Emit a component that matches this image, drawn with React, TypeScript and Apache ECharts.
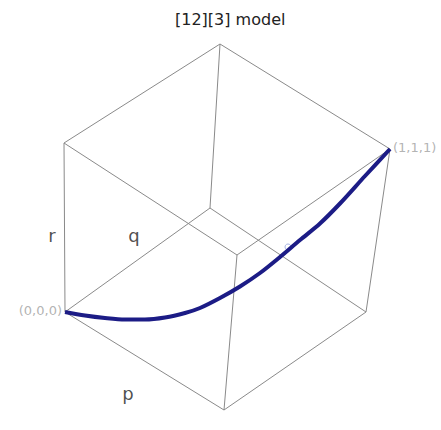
import React, { useEffect, useRef } from "react";
import * as echarts from "echarts";

// Projected screen-plane positions of the unit-cube corners, indexed by [p, q, r] bits
// (index = p + 2*q + 4*r).
const cornerX = [65, 224, 210, 366, 64, 237, 220, 390];
const cornerY = [312, 410, 208, 312, 143, 255, 44, 149];

// Model curve from (0,0,0) to (1,1,1) in the projected plane
const curveX = [65, 85, 105, 125, 145, 165, 185, 200, 220, 240, 260, 280, 300, 320, 340, 365, 390];
const curveY = [312, 315.5, 318, 319.5, 319.5, 317.5, 313, 308, 298, 286.5, 273, 257, 240, 223.5, 203.5, 176, 149];

// Highlighted point on the curve
const markerX = [288];
const markerY = [247];

// Axis labels
const axisNames = ["p", "q", "r"];
const axisLabelX = [128, 134, 52];
const axisLabelY = [393, 235, 235];

// Corner labels
const cornerLabels = ["(0,0,0)", "(1,1,1)"];
const cornerLabelIdx = [0, 7];

const titleText = "[12][3] model";

export default function App() {
  const ref = useRef<HTMLDivElement>(null);

  useEffect(() => {
    document.body.style.margin = "0";
    if (!ref.current) return;
    const chart = echarts.init(ref.current, undefined, { renderer: "svg" });

    // cube edges: corner pairs that differ in exactly one coordinate
    const edges: { coords: number[][] }[] = [];
    for (let a = 0; a < 8; a++) {
      for (const bit of [1, 2, 4]) {
        if ((a & bit) === 0) {
          const b = a | bit;
          edges.push({
            coords: [
              [cornerX[a], cornerY[a]],
              [cornerX[b], cornerY[b]],
            ],
          });
        }
      }
    }

    const curve = curveX.map((x, i) => [x, curveY[i]]);

    chart.setOption({
      animation: false,
      backgroundColor: "#ffffff",
      title: {
        text: titleText,
        left: 175,
        top: 11,
        padding: 0,
        textStyle: {
          fontFamily: "DejaVu Sans",
          fontSize: 16,
          fontWeight: "normal",
          color: "#222",
        },
      },
      grid: { left: 0, right: 0, top: 0, bottom: 0 },
      xAxis: { type: "value", min: 0, max: 441, show: false },
      yAxis: { type: "value", min: 0, max: 430, inverse: true, show: false },
      series: [
        {
          type: "lines",
          coordinateSystem: "cartesian2d",
          data: edges,
          silent: true,
          lineStyle: { color: "#8a8a8a", width: 1, opacity: 1 },
        },
        {
          type: "line",
          data: curve,
          smooth: 0.3,
          symbol: "none",
          silent: true,
          lineStyle: { color: "#1c1c86", width: 4 },
        },
        {
          type: "scatter",
          data: markerX.map((x, i) => [x, markerY[i]]),
          symbol: "circle",
          symbolSize: 6,
          silent: true,
          itemStyle: { color: "rgba(0,0,0,0)", borderColor: "#8ea0d8", borderWidth: 1 },
        },
        {
          type: "scatter",
          symbolSize: 0,
          silent: true,
          data: axisNames.map((n, i) => ({ name: n, value: [axisLabelX[i], axisLabelY[i]] })),
          label: {
            show: true,
            position: "inside",
            formatter: "{b}",
            fontFamily: "DejaVu Sans",
            fontSize: 18,
            color: "#222",
          },
        },
        {
          type: "scatter",
          symbolSize: 0,
          silent: true,
          data: cornerLabels.map((n, i) => ({
            name: n,
            value: [cornerX[cornerLabelIdx[i]], cornerY[cornerLabelIdx[i]] - 2],
            label: { position: i === 0 ? "left" : "right" },
          })),
          label: {
            show: true,
            distance: 3,
            formatter: "{b}",
            fontFamily: "DejaVu Sans",
            fontSize: 13,
            color: "#a0a0a0",
          },
        },
      ],
    });

    return () => chart.dispose();
  }, []);

  return <div ref={ref} style={{ width: 441, height: 430 }} />;
}
